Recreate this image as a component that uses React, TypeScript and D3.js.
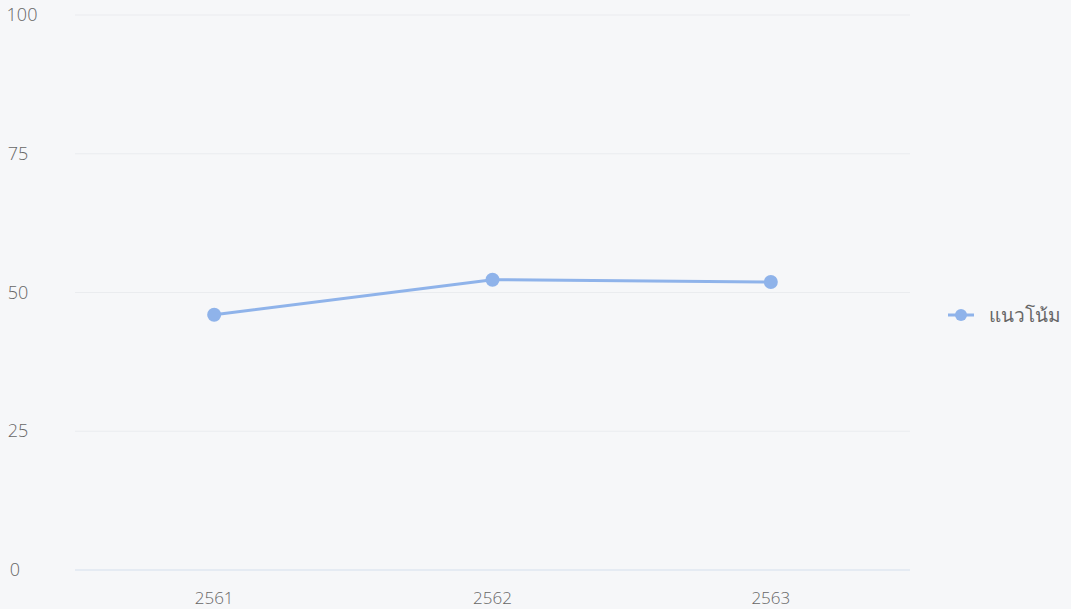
import React from 'react';
import { scaleLinear, scaleBand, line } from 'd3';

const years = ['2561', '2562', '2563'];
const values = [46.0, 52.3, 51.9];
const yTicks = [0, 25, 50, 75, 100];
const seriesName = 'แนวโน้ม';

const W = 1071;
const H = 609;
const left = 75;
const right = 910;
const top = 15;
const bottom = 570;
const lineColor = '#8fb3ea';

const App = () => {
	const x = scaleBand().domain(years).range([left, right]);
	const y = scaleLinear().domain([0, 100]).range([bottom, top]);

	const cx = (d: string) => (x(d) as number) + x.bandwidth() / 2;
	const path = line<number>()
		.x((_, i) => cx(years[i]))
		.y((v) => y(v))(values);

	return (
		<svg
			width={W}
			height={H}
			style={{ position: 'absolute', left: 0, top: 0, background: '#f6f7f9' }}
			fontFamily="'Open Sans', 'Noto Sans', sans-serif">
			<rect width={W} height={H} fill="#f6f7f9" />
			{/* grid */}
			{yTicks.map((t) => (
				<g key={t}>
					<line
						x1={left}
						x2={right}
						y1={y(t)}
						y2={y(t)}
						stroke={t === 0 ? '#d3e0ee' : '#eaecef'}
						strokeWidth={1.2}
					/>
					<text
						x={t === 100 ? 22 : t === 0 ? 15 : 18}
						y={y(t) + 6}
						textAnchor="middle"
						fontSize={18}
						fontWeight={300}
						fill="#666">
						{t}
					</text>
				</g>
			))}
			{years.map((d) => (
				<text
					key={d}
					x={cx(d)}
					y={604}
					textAnchor="middle"
					fontSize={17}
					fontWeight={300}
					fill="#666">
					{d}
				</text>
			))}
			<path d={path || ''} fill="none" stroke={lineColor} strokeWidth={3} />
			{values.map((v, i) => (
				<circle key={i} cx={cx(years[i])} cy={y(v)} r={7} fill={lineColor} />
			))}
			{/* legend */}
			<g transform="translate(948, 315)">
				<line x1={0} x2={26} y1={0} y2={0} stroke={lineColor} strokeWidth={3} />
				<circle cx={13} cy={0} r={6} fill={lineColor} />
				<text x={41} y={7} fontSize={19} fontWeight={300} fill="#666">
					{seriesName}
				</text>
			</g>
		</svg>
	);
};

export default App;
